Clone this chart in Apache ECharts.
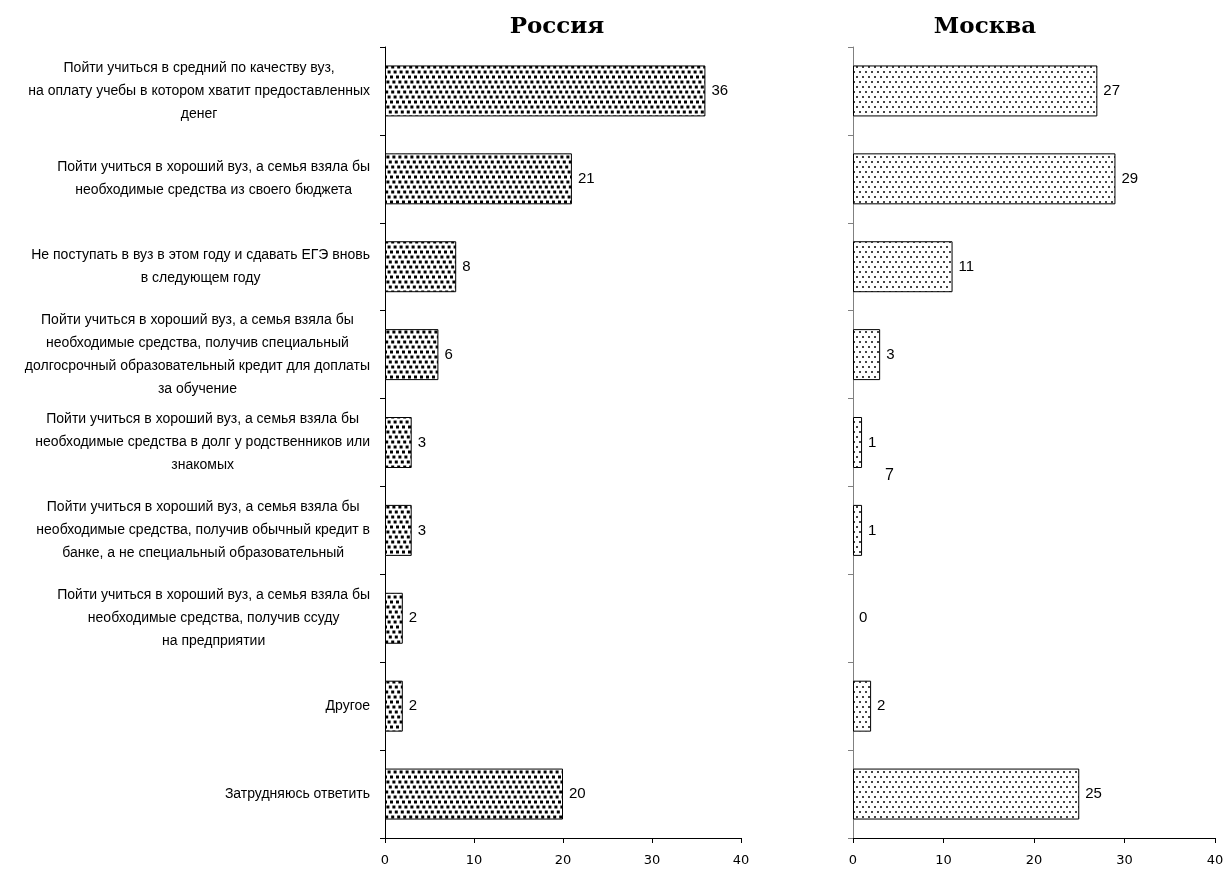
<!DOCTYPE html>
<html><head><meta charset="utf-8">
<script src="https://cdn.jsdelivr.net/npm/echarts@6/dist/echarts.min.js"></script>
<style>html,body{margin:0;padding:0;background:#fff}#c{width:1227px;height:870px}</style>
</head><body><div id="c"></div>
<script>
const categories = [
  "Пойти учиться в средний по качеству вуз,\nна оплату учебы в котором хватит предоставленных\nденег",
  "Пойти учиться в хороший вуз, а семья взяла бы\nнеобходимые средства из своего бюджета",
  "Не поступать в вуз в этом году и сдавать ЕГЭ вновь\nв следующем году",
  "Пойти учиться в хороший вуз, а семья взяла бы\nнеобходимые средства, получив специальный\nдолгосрочный образовательный кредит для доплаты\nза обучение",
  "Пойти учиться в хороший вуз, а семья взяла бы\nнеобходимые средства в долг у родственников или\nзнакомых",
  "Пойти учиться в хороший вуз, а семья взяла бы\nнеобходимые средства, получив обычный кредит в\nбанке, а не специальный образовательный",
  "Пойти учиться в хороший вуз, а семья взяла бы\nнеобходимые средства, получив ссуду\nна предприятии",
  "Другое",
  "Затрудняюсь ответить"
];
const russia = [36, 21, 8, 6, 3, 3, 2, 2, 20];
const moscow = [27, 29, 11, 3, 1, 1, 0, 2, 25];
const panelTitles = ["Россия", "Москва"];
const xTicks = [0, 10, 20, 30, 40];
const strayNote = "7";

function makePattern(kind) {
  const c = document.createElement('canvas');
  const g = c.getContext('2d');
  if (kind === 'dense') {
    c.width = 6; c.height = 25;
    g.fillStyle = '#fff'; g.fillRect(0, 0, 6, 25);
    g.fillStyle = '#000';
    const offs = [0, 2.4, 4.8, 1.2, 3.6];
    offs.forEach((x, i) => {
      const y = i * 5 + 0.5;
      g.fillRect(x, y, 3, 3);
      if (x + 3 > 6) g.fillRect(x - 6, y, 3, 3);
    });
  } else {
    c.width = 6; c.height = 10;
    g.fillStyle = '#fff'; g.fillRect(0, 0, 6, 10);
    g.fillStyle = '#444';
    g.fillRect(1, 1, 2, 2);
    g.fillRect(4, 6, 2, 2);
  }
  return c;
}

const labelFont = '"Liberation Sans", Arial, sans-serif';
const chart = echarts.init(document.getElementById('c'), null, {renderer: 'canvas'});

function yAxis(gridIndex, showLabels, lineColor) {
  return {
    type: 'category', gridIndex, data: categories, inverse: true,
    axisLine: {show: true, lineStyle: {color: lineColor, width: 1}},
    axisTick: {show: true, inside: false, alignWithLabel: false, length: 5, lineStyle: {color: lineColor}},
    axisLabel: showLabels ? {
      show: true, margin: 15, align: 'right', color: '#000',
      formatter: v => v.split('\n').map(s => '{c|' + s + '}').join('\n'),
      rich: {c: {align: 'center', fontFamily: labelFont, fontSize: 14, lineHeight: 23, color: '#000'}}
    } : {show: false}
  };
}
function xAxis(gridIndex) {
  return {
    type: 'value', gridIndex, min: 0, max: 40, interval: 10,
    axisLine: {show: true, lineStyle: {color: '#000'}},
    axisTick: {show: true, length: 5, lineStyle: {color: '#000'}},
    splitLine: {show: false},
    axisLabel: {margin: 16, color: '#000', fontFamily: '"DejaVu Sans", sans-serif', fontSize: 13,
      formatter: v => xTicks.includes(v) ? String(v) : ''}
  };
}
function series(idx, data, kind) {
  return {
    type: 'bar', xAxisIndex: idx, yAxisIndex: idx,
    data: data.map(v => v === 0 ? {value: v, itemStyle: {borderWidth: 0}} : v),
    barWidth: '58%',
    itemStyle: {color: {image: makePattern(kind), repeat: 'repeat'}, borderColor: '#000', borderWidth: 1},
    label: {show: true, position: 'right', distance: 6, color: '#000',
      fontFamily: '"Liberation Sans Narrow", "Liberation Sans", Arial, sans-serif', fontSize: 15},
    silent: true, animation: false
  };
}

chart.setOption({
  animation: false,
  title: [
    {text: panelTitles[0], left: 552, top: 11, textAlign: 'center',
     textStyle: {fontFamily: '"DejaVu Serif", serif', fontWeight: 'bold', fontSize: 23, color: '#000'}},
    {text: panelTitles[1], left: 980, top: 11, textAlign: 'center',
     textStyle: {fontFamily: '"DejaVu Serif", serif', fontWeight: 'bold', fontSize: 23, color: '#000'}}
  ],
  grid: [
    {left: 385, top: 47, width: 356, height: 791},
    {left: 853, top: 47, width: 362, height: 791}
  ],
  xAxis: [xAxis(0), xAxis(1)],
  yAxis: [yAxis(0, true, '#000'), yAxis(1, false, '#808080')],
  series: [series(0, russia, 'dense'), series(1, moscow, 'light')],
  graphic: [{type: 'text', left: 885, top: 468,
    style: {text: strayNote, font: '16px "Liberation Sans", Arial, sans-serif', fill: '#000'}}]
});
</script></body></html>
